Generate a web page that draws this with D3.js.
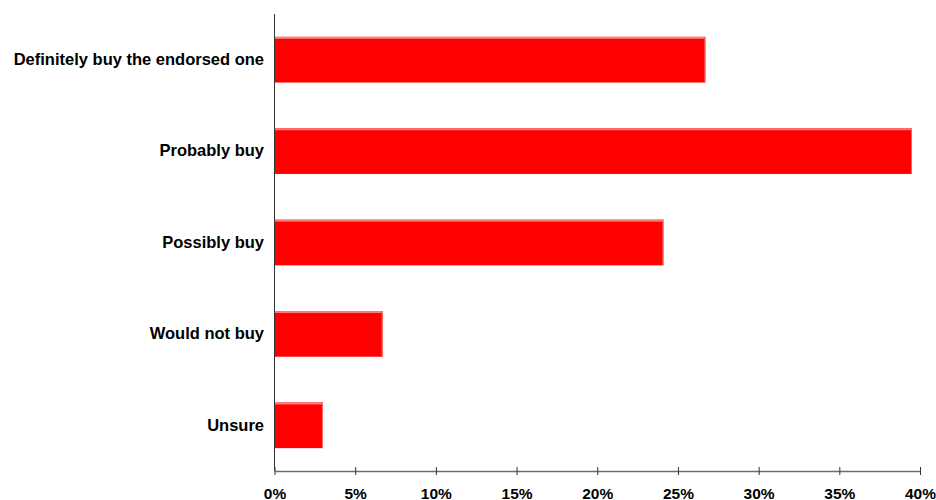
<!DOCTYPE html>
<html>
<head>
<meta charset="utf-8">
<script src="https://cdn.jsdelivr.net/npm/d3@7"></script>
<style>
  html, body { margin: 0; padding: 0; background: #fff; }
  svg { display: block; }
  text { font-family: "Liberation Sans", Arial, sans-serif; font-weight: bold; fill: #000; }
</style>
</head>
<body>
<svg id="chart" width="936" height="500"></svg>
<script>
// Purchase intent responses
const categories = [
  "Definitely buy the endorsed one",
  "Probably buy",
  "Possibly buy",
  "Would not buy",
  "Unsure"
];
const values = [26.7, 39.5, 24.1, 6.7, 3.0];
const tickValues = [0, 5, 10, 15, 20, 25, 30, 35, 40];

const svg = d3.select("#chart");
const plotLeft = 274.5, plotRight = 920, plotTop = 14, plotBottom = 471;

const x = d3.scaleLinear().domain([0, 40]).range([plotLeft, plotRight]);
const y = d3.scaleBand().domain(categories).range([plotTop, plotBottom])
  .paddingInner(0.5).paddingOuter(0.25);

// bars
const bars = svg.append("g");
bars.selectAll("rect.bar")
  .data(categories)
  .join("rect")
  .attr("class", "bar")
  .attr("x", x(0))
  .attr("y", d => y(d))
  .attr("width", (d, i) => x(values[i]) - x(0))
  .attr("height", y.bandwidth())
  .attr("fill", "#ff0000");
// light highlight along the top and right edges
bars.selectAll("rect.hi-top")
  .data(categories)
  .join("rect")
  .attr("class", "hi-top")
  .attr("x", x(0))
  .attr("y", d => y(d))
  .attr("width", (d, i) => x(values[i]) - x(0))
  .attr("height", 2)
  .attr("fill", "#ff7a7a");
bars.selectAll("rect.hi-right")
  .data(categories)
  .join("rect")
  .attr("class", "hi-right")
  .attr("x", (d, i) => x(values[i]) - 1)
  .attr("y", d => y(d))
  .attr("width", 1)
  .attr("height", y.bandwidth())
  .attr("fill", "#ff6a6a");

// x axis
const xAxis = svg.append("g")
  .attr("transform", `translate(0,${plotBottom})`)
  .call(d3.axisBottom(x).tickValues(tickValues)
    .tickFormat(d => d + "%").tickSize(4).tickSizeOuter(0));
xAxis.select(".domain").attr("stroke", "#6e6e6e").attr("stroke-width", 1.5);
xAxis.selectAll(".tick line").attr("stroke", "#333").attr("y1", -4).attr("y2", 4);
xAxis.selectAll(".tick text")
  .attr("y", 27.5)
  .attr("dy", "0")
  .style("font-size", "15.5px")
  .style("font-family", "'Liberation Sans', Arial, sans-serif")
  .style("font-weight", "bold")
  .attr("fill", "#000");

// y axis
const yAxis = svg.append("g")
  .attr("transform", `translate(${plotLeft},0)`)
  .call(d3.axisLeft(y).tickSize(0).tickPadding(10.5));
yAxis.select(".domain").attr("stroke", "#333").attr("stroke-width", 1)
  .attr("d", `M0,${plotTop}V${plotBottom}`);
yAxis.selectAll(".tick text")
  .style("font-size", "16.5px")
  .style("font-family", "'Liberation Sans', Arial, sans-serif")
  .style("font-weight", "bold")
  .attr("fill", "#000");
</script>
</body>
</html>
